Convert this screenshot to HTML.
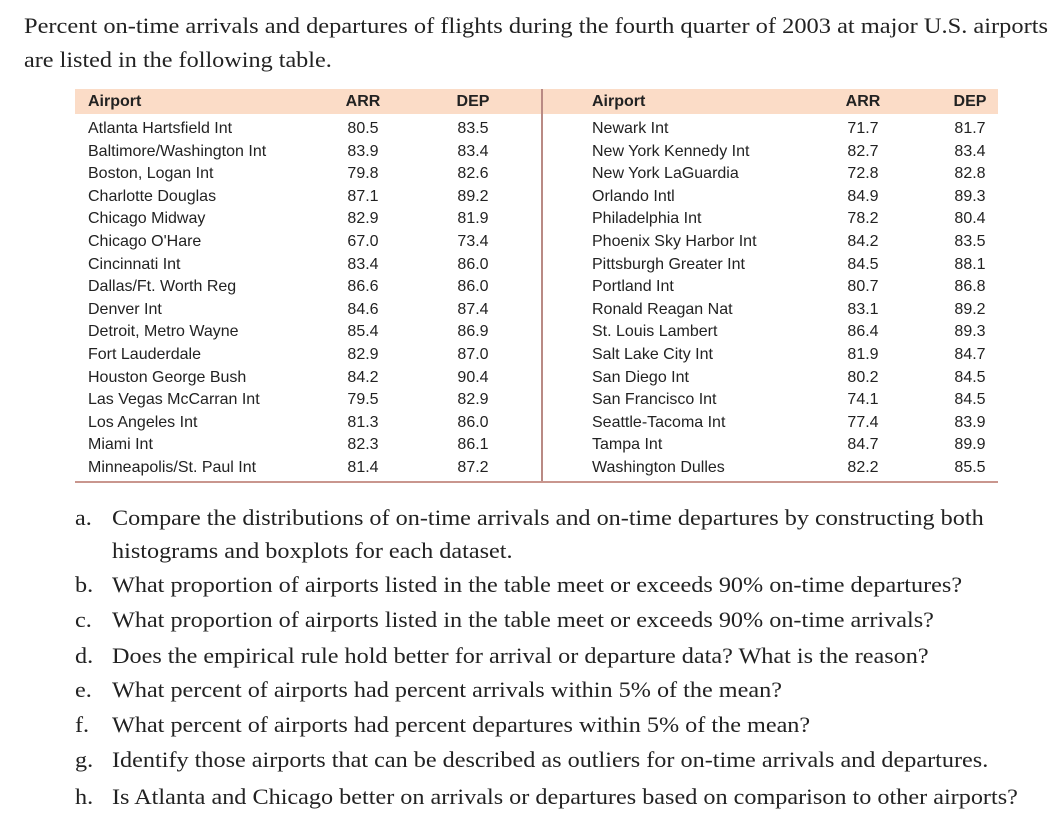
<!DOCTYPE html>
<html><head><meta charset="utf-8"><style>
body{margin:0;width:1057px;height:818px;background:#fff;position:relative;overflow:hidden;font-family:"Liberation Serif",serif;color:#222}
.t{position:absolute;white-space:nowrap;font-size:22px;line-height:1;transform:scaleX(1.1);transform-origin:0 0}
.c{position:absolute;white-space:nowrap;font-family:"Liberation Sans",sans-serif;font-size:16px;line-height:1;color:#222}
.r{text-align:center;width:60px}
.h{font-weight:bold}
</style></head><body>
<div class="t" style="left:24px;top:15px;transform:scaleX(1.11)">Percent on-time arrivals and departures of flights during the fourth quarter of 2003 at major U.S. airports</div>
<div class="t" style="left:24px;top:49px">are listed in the following table.</div>
<div style="position:absolute;left:75px;top:89px;width:923px;height:25px;background:#fbdcc7"></div>
<div style="position:absolute;left:541px;top:89px;width:1.5px;height:393px;background:#b98a84"></div>
<div style="position:absolute;left:75px;top:481px;width:923px;height:1.5px;background:#c9968e"></div>
<div id="tbl"></div>
<div id="qs"></div>
<script>
const left=[["Atlanta Hartsfield Int","80.5","83.5"],["Baltimore/Washington Int","83.9","83.4"],["Boston, Logan Int","79.8","82.6"],["Charlotte Douglas","87.1","89.2"],["Chicago Midway","82.9","81.9"],["Chicago O'Hare","67.0","73.4"],["Cincinnati Int","83.4","86.0"],["Dallas/Ft. Worth Reg","86.6","86.0"],["Denver Int","84.6","87.4"],["Detroit, Metro Wayne","85.4","86.9"],["Fort Lauderdale","82.9","87.0"],["Houston George Bush","84.2","90.4"],["Las Vegas McCarran Int","79.5","82.9"],["Los Angeles Int","81.3","86.0"],["Miami Int","82.3","86.1"],["Minneapolis/St. Paul Int","81.4","87.2"]];
const right=[["Newark Int","71.7","81.7"],["New York Kennedy Int","82.7","83.4"],["New York LaGuardia","72.8","82.8"],["Orlando Intl","84.9","89.3"],["Philadelphia Int","78.2","80.4"],["Phoenix Sky Harbor Int","84.2","83.5"],["Pittsburgh Greater Int","84.5","88.1"],["Portland Int","80.7","86.8"],["Ronald Reagan Nat","83.1","89.2"],["St. Louis Lambert","86.4","89.3"],["Salt Lake City Int","81.9","84.7"],["San Diego Int","80.2","84.5"],["San Francisco Int","74.1","84.5"],["Seattle-Tacoma Int","77.4","83.9"],["Tampa Int","84.7","89.9"],["Washington Dulles","82.2","85.5"]];
const tbl=document.getElementById('tbl');
function cell(txt,x,y,cls,center){const d=document.createElement('div');d.className='c '+cls+(center?' r':'');d.textContent=txt;d.style.left=(center?x-30:x)+'px';d.style.top=y+'px';


tbl.appendChild(d);}
const cols=[[88,363,473],[592,863,970]];
[left,right].forEach((rows,k)=>{const[c0,c1,c2]=cols[k];
cell('Airport',c0,94,'h',false);cell('ARR',c1,94,'h',true);cell('DEP',c2,94,'h',true);
rows.forEach((r,i)=>{const y=121+i*22.6;cell(r[0],c0,y,'',false);cell(r[1],c1,y,'',true);cell(r[2],c2,y,'',true);});});
const qs=[["a.","Compare the distributions of on-time arrivals and on-time departures by constructing both"],["","histograms and boxplots for each dataset."],["b.","What proportion of airports listed in the table meet or exceeds 90% on-time departures?"],["c.","What proportion of airports listed in the table meet or exceeds 90% on-time arrivals?"],["d.","Does the empirical rule hold better for arrival or departure data? What is the reason?"],["e.","What percent of airports had percent arrivals within 5% of the mean?"],["f.","What percent of airports had percent departures within 5% of the mean?"],["g.","Identify those airports that can be described as outliers for on-time arrivals and departures."],["h.","Is Atlanta and Chicago better on arrivals or departures based on comparison to other airports?"]];
const qel=document.getElementById('qs');
const ys=[507,540,574,609,645,679,714,749,786];
qs.forEach((q,i)=>{
 if(q[0]){const l=document.createElement('div');l.className='t';l.textContent=q[0];l.style.left='75px';l.style.top=ys[i]+'px';
 
 
 qel.appendChild(l);}
 const t=document.createElement('div');t.className='t';t.textContent=q[1];t.style.left='112px';t.style.top=ys[i]+'px';
 
 
 qel.appendChild(t);
});
</script>
</body></html>
